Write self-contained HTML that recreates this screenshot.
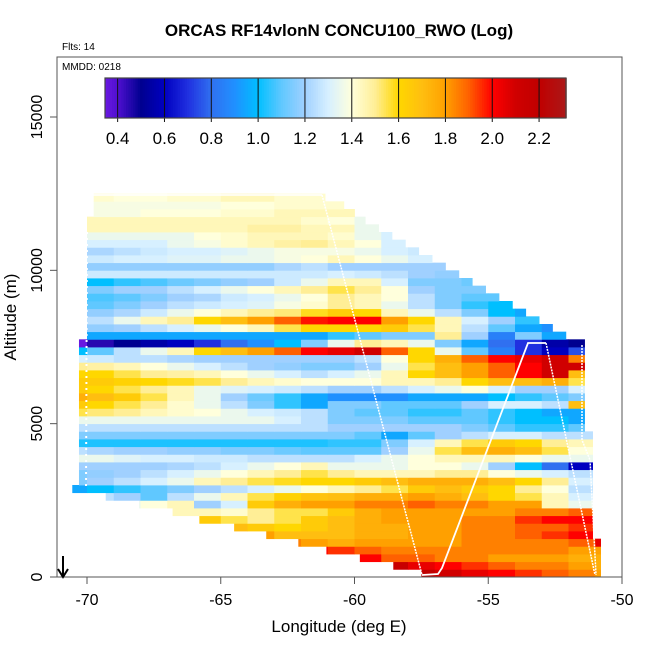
<!DOCTYPE html>
<html><head><meta charset="utf-8">
<style>
html,body{margin:0;padding:0;background:#fff;}
svg{display:block;font-family:"Liberation Sans",sans-serif;}
</style></head>
<body>
<svg id="chart" width="650" height="650" viewBox="0 0 650 650">
<g id="cells"></g>
<g id="tracks"></g>
<rect x="57" y="57" width="565" height="520" fill="none" stroke="#555" stroke-width="1"/>
<g id="axes"></g>
<g id="legend"></g>
<text x="339" y="36" text-anchor="middle" font-size="17" font-weight="bold">ORCAS RF14vlonN CONCU100_RWO (Log)</text>
<text x="62" y="50" font-size="10">Flts: 14</text>
<text x="62" y="70" font-size="10">MMDD: 0218</text>
<text x="339" y="632" text-anchor="middle" font-size="17">Longitude (deg E)</text>
<text transform="translate(16,317) rotate(-90)" text-anchor="middle" font-size="17">Altitude (m)</text>
<g>
<line x1="63" y1="556" x2="63" y2="576" stroke="#000" stroke-width="2"/>
<polyline points="58,569 63,577 68,569" fill="none" stroke="#000" stroke-width="2"/>
</g>
</svg>
<script>
const xTicks=[-70,-65,-60,-55,-50];
const yTicks=[0,5000,10000,15000];
const legendTicks=[0.4,0.6,0.8,1.0,1.2,1.4,1.6,1.8,2.0,2.2];
const bandHeight=250;
const binLon0=-71;
const binWidth=1;
const rowStart=[-57.5,-58.55,-59.8,-61.05,-62.1,-63.3,-64.5,-65.8,-66.8,-68.05,-69.3,-70.55,
 -70.3,-70.3,-70.3,-70.3,-70.3,-70.3,-70.3,-70.3,-70.3,-70.3,-70.3,-70.3,-70.3,-70.3,-70.3,-70.3,-70.3,-70.3,-70.3,
 -70,-70,-70,-70,-70,-70,-70,-70,-70,-70,-70,-70,-70,-70,-70,-70,-69.75,-69.75,-69.75];
const rowEnd=[-50.8,-50.8,-50.8,-50.8,-50.8,-51.1,-51.1,-51.1,-51.1,-51.1,-51.1,-51.1,-51.1,-51.1,-51.1,-51.1,-51.1,-51.1,-51.1,
 -51.4,-51.4,-51.4,-51.4,-51.4,-51.4,-51.4,-51.4,-51.4,-51.4,-51.4,-51.4,
 -52.1,-52.6,-53.1,-53.6,-54.1,-54.6,-55.1,-55.6,-56.1,-56.6,-57.1,-57.6,-58.1,-58.6,-59.1,-59.6,-60.0,-60.4,-61.1];
const N=null;
const concValues=[
[N,N,N,N,N,N,N,N,N,N,N,N,N,2.2,2.1,2.05,2.0,1.95,1.9,1.85,1.8],
[N,N,N,N,N,N,N,N,N,N,N,N,2.15,2.05,2.0,1.95,1.9,1.85,1.85,1.8,1.75],
[N,N,N,N,N,N,N,N,N,N,2.05,2.0,1.9,1.9,1.85,1.85,1.8,1.8,1.8,1.75,1.75],
[N,N,N,N,N,N,N,N,N,2.0,1.95,1.9,1.85,1.85,1.85,1.85,1.85,1.85,1.85,1.8,1.8],
[N,N,N,N,N,N,N,N,1.85,1.8,1.75,1.8,1.8,1.8,1.8,1.85,1.85,1.85,1.85,1.9,2.05],
[N,N,N,N,N,N,N,1.8,1.7,1.7,1.7,1.75,1.75,1.8,1.8,1.85,1.85,1.9,1.95,2.0,2.0],
[N,N,N,N,N,N,1.7,1.65,1.6,1.65,1.7,1.75,1.75,1.8,1.8,1.85,1.85,1.9,1.9,1.95,2.0],
[N,N,N,N,N,1.65,1.55,1.5,1.55,1.65,1.7,1.75,1.8,1.8,1.8,1.85,1.85,1.95,2.0,2.0,2.0],
[N,N,N,N,1.45,1.45,1.42,1.5,1.55,1.55,1.65,1.75,1.8,1.8,1.8,1.8,1.8,1.85,1.85,1.9,1.95],
[N,N,1.35,1.4,1.45,1.2,1.3,1.65,1.75,1.8,1.8,1.85,1.85,1.9,1.85,1.85,1.8,1.8,1.45,1.35,1.4],
[N,1.25,1.2,1.1,1.25,1.35,1.45,1.55,1.62,1.68,1.7,1.75,1.75,1.8,1.75,1.7,1.6,1.55,1.45,1.3,1.25],
[0.95,1.0,1.05,1.1,1.15,1.2,1.25,1.3,1.35,1.4,1.45,1.5,1.55,1.65,1.7,1.65,1.6,1.5,1.4,1.25,1.25],
[1.15,1.2,1.25,1.3,1.35,1.45,1.5,1.55,1.58,1.6,1.6,1.65,1.7,1.75,1.75,1.75,1.7,1.6,1.5,1.3,1.25],
[1.15,1.18,1.2,1.25,1.3,1.35,1.4,1.45,1.5,1.55,1.5,1.45,1.45,1.45,1.5,1.5,1.4,1.35,1.3,1.25,1.3],
[1.2,1.2,1.2,1.2,1.22,1.25,1.3,1.35,1.4,1.45,1.35,1.35,1.35,1.4,1.4,1.35,1.2,1.0,0.8,0.6,1.0],
[1.35,1.35,1.32,1.3,1.3,1.28,1.28,1.25,1.25,1.25,1.25,1.3,1.35,1.4,1.45,1.45,1.45,1.4,1.35,1.35,1.3],
[1.25,1.22,1.2,1.2,1.18,1.18,1.15,1.15,1.12,1.1,1.1,1.1,1.2,1.35,1.55,1.7,1.75,1.7,1.55,1.4,1.35],
[1.03,1.03,1.03,1.03,1.03,1.03,1.03,1.03,1.03,1.03,1.05,1.05,1.15,1.3,1.45,1.55,1.65,1.6,1.5,1.45,1.5],
[1.15,1.15,1.15,1.15,1.15,1.15,1.15,1.15,1.15,1.15,1.15,1.1,0.95,1.1,1.2,1.25,1.3,1.3,1.25,1.25,1.35],
[1.25,1.25,1.25,1.25,1.25,1.25,1.25,1.25,1.25,1.25,1.2,1.2,1.2,1.2,1.2,1.15,1.1,1.05,1.05,1.1],
[1.35,1.35,1.35,1.35,1.35,1.35,1.35,1.35,1.3,1.25,1.15,1.15,1.15,1.1,1.1,1.1,1.05,1.0,1.0,0.95],
[1.55,1.52,1.5,1.45,1.42,1.4,1.35,1.3,1.28,1.25,1.15,1.1,1.1,1.05,1.05,1.1,1.05,1.0,0.95,0.95],
[1.65,1.6,1.55,1.5,1.42,1.35,1.25,1.15,1.05,0.95,1.15,1.15,1.1,1.1,1.1,1.2,1.3,1.3,1.25,1.7],
[1.75,1.7,1.65,1.55,1.45,1.35,1.2,1.12,1.05,0.95,0.9,0.9,0.9,0.95,0.95,0.95,1.0,1.05,1.1,1.15],
[1.65,1.6,1.55,1.5,1.45,1.35,1.32,1.3,1.28,1.25,1.2,1.2,1.25,1.3,1.35,1.4,1.3,1.2,1.2,1.3],
[1.65,1.65,1.62,1.6,1.58,1.55,1.5,1.45,1.42,1.4,1.4,1.4,1.45,1.45,1.5,1.6,1.7,1.7,1.75,1.55],
[1.6,1.6,1.55,1.5,1.48,1.45,1.4,1.35,1.3,1.25,1.3,1.35,1.45,1.6,1.7,1.8,1.9,2.0,2.1,1.7],
[1.5,1.48,1.45,1.4,1.35,1.3,1.25,1.2,1.18,1.15,1.15,1.2,1.35,1.55,1.7,1.8,1.9,2.0,2.1,2.1],
[1.3,1.28,1.25,1.25,1.22,1.2,1.2,1.2,1.2,1.2,1.2,1.25,1.4,1.6,1.75,1.9,2.0,2.05,2.1,1.85],
[1.0,1.1,1.25,1.35,1.45,1.6,1.7,1.8,1.9,2.0,2.05,2.1,1.9,1.6,1.35,1.1,0.85,0.7,0.6,0.75],
[0.35,0.45,0.5,0.55,0.6,0.7,0.8,0.9,1.0,1.15,1.35,1.5,1.45,1.35,1.15,0.95,0.8,0.7,0.55,0.5],
[0.95,0.95,0.95,0.95,0.95,0.95,0.95,0.95,0.95,0.95,1.05,1.1,1.15,1.15,1.5,1.2,0.85,1.15,0.95],
[1.15,1.18,1.2,1.25,1.3,1.35,1.4,1.45,1.55,1.6,1.6,1.6,1.65,1.55,1.45,1.25,1.1,0.95,0.9],
[1.2,1.25,1.35,1.45,1.5,1.6,1.7,1.8,1.9,1.98,2.0,2.0,1.8,1.6,1.45,1.3,1.2,1.05],
[1.15,1.18,1.22,1.28,1.35,1.4,1.45,1.5,1.52,1.58,1.65,1.6,1.45,1.35,1.25,1.15,1.0,0.95],
[1.08,1.1,1.15,1.2,1.25,1.28,1.3,1.32,1.38,1.42,1.5,1.45,1.35,1.25,1.15,1.05,1.0],
[1.05,1.08,1.1,1.15,1.2,1.22,1.28,1.3,1.35,1.4,1.5,1.45,1.4,1.25,1.15,1.1,1.1],
[1.15,1.15,1.2,1.2,1.25,1.3,1.35,1.4,1.45,1.5,1.55,1.5,1.4,1.2,1.15,1.15],
[0.98,1.0,1.05,1.08,1.12,1.15,1.18,1.2,1.28,1.35,1.45,1.45,1.3,1.15,1.15,1.12],
[1.28,1.28,1.28,1.28,1.28,1.28,1.28,1.28,1.28,1.28,1.3,1.28,1.25,1.2,1.18],
[1.18,1.18,1.18,1.18,1.18,1.18,1.18,1.18,1.22,1.25,1.2,1.2,1.2,1.2,1.2],
[1.28,1.28,1.3,1.3,1.32,1.32,1.35,1.35,1.38,1.4,1.45,1.4,1.35,1.3],
[1.22,1.22,1.25,1.28,1.3,1.3,1.32,1.35,1.38,1.38,1.38,1.35,1.3,1.28],
[1.3,1.3,1.3,1.3,1.35,1.38,1.42,1.45,1.48,1.5,1.45,1.4,1.3],
[1.35,1.35,1.35,1.35,1.35,1.4,1.42,1.45,1.45,1.45,1.42,1.35,1.3],
[1.45,1.45,1.45,1.45,1.45,1.45,1.45,1.48,1.48,1.45,1.45,1.35],
[1.45,1.45,1.45,1.45,1.45,1.45,1.45,1.45,1.45,1.42,1.4,1.35],
[1.38,1.38,1.38,1.4,1.4,1.4,1.42,1.42,1.45,1.45,1.45],
[1.38,1.38,1.38,1.38,1.38,1.38,1.4,1.4,1.42,1.42,1.42],
[1.42,1.42,1.4,1.4,1.42,1.42,1.45,1.45,1.42,1.42,1.42]
];
const colorStops=[[0.3,[128,32,240]],[0.4,[80,16,208]],[0.5,[0,0,144]],[0.6,[0,0,192]],[0.7,[32,48,224]],
 [0.8,[48,112,240]],[0.9,[32,144,255]],[1.0,[0,191,255]],[1.1,[96,200,255]],[1.2,[160,208,255]],
 [1.3,[215,240,255]],[1.4,[255,255,220]],[1.5,[255,238,150]],[1.6,[255,215,0]],[1.7,[255,190,16]],
 [1.8,[255,160,0]],[1.9,[255,96,0]],[2.0,[255,0,0]],[2.1,[208,0,0]],[2.2,[192,0,0]],[2.35,[165,32,32]]];
function color(v){
  if(v<=colorStops[0][0]) return 'rgb('+colorStops[0][1]+')';
  for(let i=1;i<colorStops.length;i++){
    if(v<=colorStops[i][0]){
      const a=colorStops[i-1],b=colorStops[i],t=(v-a[0])/(b[0]-a[0]);
      const c=a[1].map((x,k)=>Math.round(x+(b[1][k]-x)*t));
      return 'rgb('+c.join(',')+')';
    }
  }
  return 'rgb('+colorStops[colorStops.length-1][1]+')';
}
const NS='http://www.w3.org/2000/svg';
function xpx(lon){return 87+(lon+70)*26.75;}
function ypx(alt){return 577-alt*0.030667;}
function mk(tag,attrs,parent){const e=document.createElementNS(NS,tag);for(const k in attrs)e.setAttribute(k,attrs[k]);parent.appendChild(e);return e;}

const cells=document.getElementById('cells');
concValues.forEach((row,r)=>{
  const y0=ypx((r+1)*bandHeight), y1=ypx(r*bandHeight);
  row.forEach((v,i)=>{
    if(v===null) return;
    const l=Math.max(binLon0+i*binWidth,rowStart[r]);
    const rr=Math.min(binLon0+(i+1)*binWidth,rowEnd[r]);
    if(rr<=l) return;
    const e=mk('rect',{x:xpx(l).toFixed(2),y:y0.toFixed(2),width:(xpx(rr)-xpx(l)+0.4).toFixed(2),height:(y1-y0+0.4).toFixed(2),fill:color(v)},cells);
    
    
  });
});

const tracks=document.getElementById('tracks');
function tl(pts,dash,w){
  const e=mk('polyline',{points:pts,fill:'none',stroke:'#fff','stroke-width':w||1.5,'stroke-dasharray':dash||'none'},tracks);
  
  
}
tl('92,195 322,195',null,1.5);
tl('322,195 422,575','2,1',1.5);
tl('422,575 438,574 442,568 528,343 546,343',null,1.8);
tl('546,343 595,575','2,1',1.5);
tl('582,345 582,440 590,460 596,575','2,1',1.5);
tl('87,232 86,490','2,4',2);

const ax=document.getElementById('axes');
xTicks.forEach(t=>{
  const x=xpx(t);
  let e=mk('line',{x1:x,y1:577,x2:x,y2:584,stroke:'#555'},ax);
  
  
  e=mk('text',{x:x,y:605,'text-anchor':'middle','font-size':16},ax);
  e.textContent=t;
  
  
});
yTicks.forEach(t=>{
  const y=ypx(t);
  let e=mk('line',{x1:50,y1:y,x2:57,y2:y,stroke:'#555'},ax);
  
  
  e=mk('text',{transform:'translate(42,'+y+') rotate(-90)','text-anchor':'middle','font-size':16},ax);
  e.textContent=t;
  
  
});

const lg=document.getElementById('legend');
const lx0=105,lx1=566,v0=0.346,v1=2.315;
function lpx(v){return lx0+(v-v0)/(v1-v0)*(lx1-lx0);}
for(let v=v0;v<v1;v+=0.01){
  const e=mk('rect',{x:lpx(v).toFixed(2),y:78,width:(lpx(v+0.01)-lpx(v)+0.5).toFixed(2),height:40,fill:color(v+0.005)},lg);
  
  
}
legendTicks.forEach(t=>{
  const x=lpx(t);
  let e=mk('line',{x1:x,y1:78,x2:x,y2:122,stroke:'#111','stroke-width':1},lg);
  
  
  e=mk('text',{x:x,y:144,'text-anchor':'middle','font-size':17},lg);
  e.textContent=t.toFixed(1);
  
  
});
const lb=mk('rect',{x:lx0,y:78,width:lx1-lx0,height:40,fill:'none',stroke:'#444','stroke-width':1.2},lg);


</script>
</body></html>
